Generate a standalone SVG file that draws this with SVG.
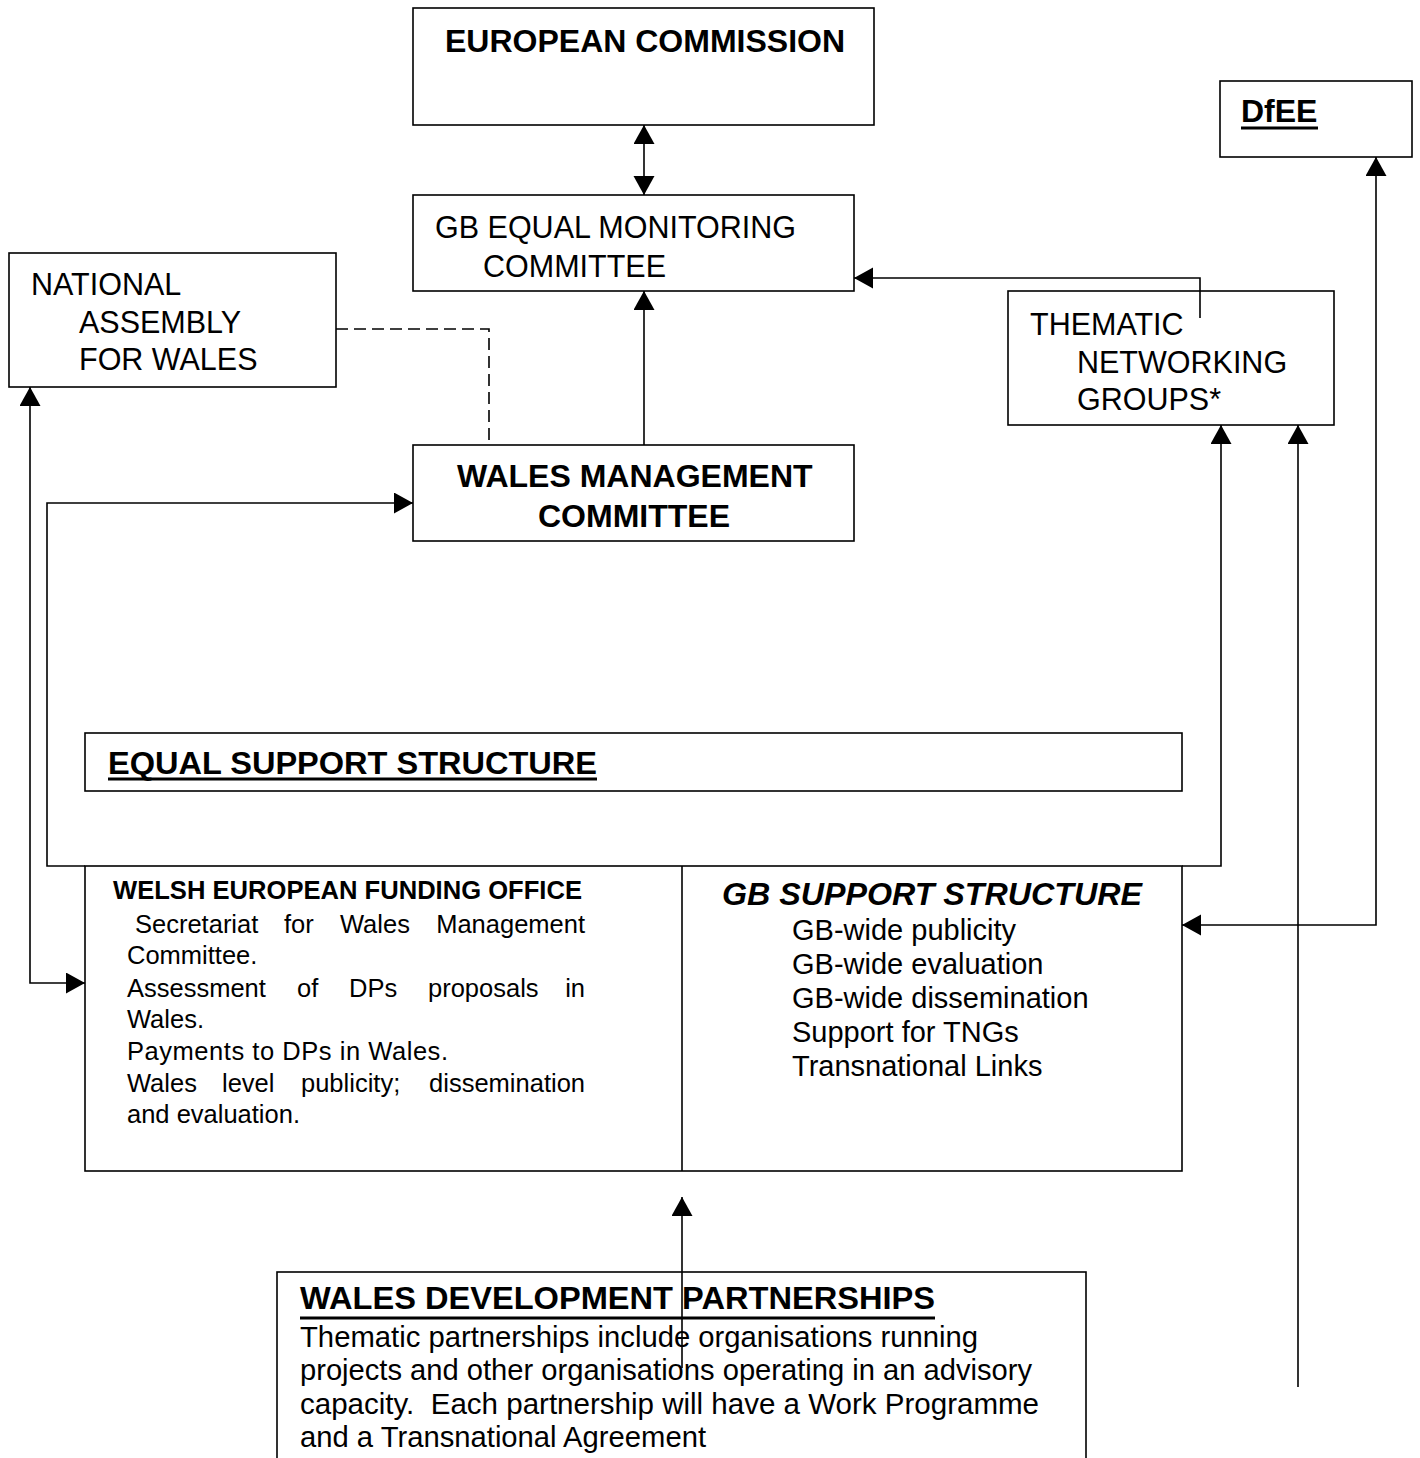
<svg xmlns="http://www.w3.org/2000/svg" width="1420" height="1458" viewBox="0 0 1420 1458">
<style>
.box{fill:none;stroke:#000;stroke-width:1.6}
.t{font-family:"Liberation Sans",Arial,sans-serif;fill:#000}
.b{font-weight:bold}
.h{font-size:30.5px}
.hb{font-size:32px;font-weight:bold}
.s{font-size:25.5px}
.m{font-size:29px}
.c{fill:none;stroke:#000;stroke-width:1.6}
.d{stroke-dasharray:12 6}
.ul{fill:#000}
</style>
<defs>
<marker id="ah" markerUnits="userSpaceOnUse" markerWidth="20" markerHeight="22" refX="19" refY="10.5" orient="auto-start-reverse" viewBox="0 0 20 22">
<path d="M0,0 L19,10.5 L0,21 z" fill="#000"/>
</marker>
</defs>
<rect width="1420" height="1458" fill="#fff"/>

<g id="european-commission">
<rect class="box" x="413" y="8" width="461" height="117"/>
<text class="t hb" x="445" y="52">EUROPEAN COMMISSION</text>
</g>

<g id="gb-equal-monitoring-committee">
<rect class="box" x="413" y="195" width="441" height="96"/>
<text class="t h" x="435" y="238">GB EQUAL MONITORING</text>
<text class="t h" x="483" y="277">COMMITTEE</text>
</g>

<g id="national-assembly">
<rect class="box" x="9" y="253" width="327" height="134"/>
<text class="t h" x="31" y="295">NATIONAL</text>
<text class="t h" x="79" y="333">ASSEMBLY</text>
<text class="t h" x="79" y="370">FOR WALES</text>
</g>

<g id="wales-management-committee">
<rect class="box" x="413" y="445" width="441" height="96"/>
<text class="t hb" x="457" y="487">WALES MANAGEMENT</text>
<text class="t hb" x="538" y="527">COMMITTEE</text>
</g>

<g id="thematic-networking-groups">
<rect class="box" x="1008" y="291" width="326" height="134"/>
<text class="t h" x="1030" y="335">THEMATIC</text>
<text class="t h" x="1077" y="373">NETWORKING</text>
<text class="t h" x="1077" y="410">GROUPS*</text>
</g>

<g id="dfee">
<rect class="box" x="1220" y="81" width="192" height="76"/>
<text class="t hb" x="1241" y="122">DfEE</text>
<rect class="ul" x="1241" y="126.5" width="77" height="3"/>
</g>

<g id="equal-support-structure">
<rect class="box" x="85" y="733" width="1097" height="58"/>
<text class="t hb" x="108" y="774" textLength="489" lengthAdjust="spacingAndGlyphs">EQUAL SUPPORT STRUCTURE</text>
<rect class="ul" x="108" y="777.5" width="489" height="3"/>
</g>

<g id="support-structure-box">
<rect class="box" x="85" y="866" width="1097" height="305"/>
<line class="c" x1="682" y1="866" x2="682" y2="1171"/>
</g>

<g id="welsh-european-funding-office">
<text class="t s b" x="113" y="899" textLength="469" lengthAdjust="spacingAndGlyphs">WELSH EUROPEAN FUNDING OFFICE</text>
<text class="t s" y="933"><tspan x="135">Secretariat</tspan><tspan x="284">for</tspan><tspan x="340">Wales</tspan><tspan x="585" text-anchor="end">Management</tspan></text>
<text class="t s" x="127" y="964">Committee.</text>
<text class="t s" y="997"><tspan x="127">Assessment</tspan><tspan x="297">of</tspan><tspan x="349">DPs</tspan><tspan x="428">proposals</tspan><tspan x="585" text-anchor="end">in</tspan></text>
<text class="t s" x="127" y="1028">Wales.</text>
<text class="t s" x="127" y="1060" textLength="321" lengthAdjust="spacing">Payments to DPs in Wales.</text>
<text class="t s" y="1092"><tspan x="127">Wales</tspan><tspan x="222">level</tspan><tspan x="301">publicity;</tspan><tspan x="585" text-anchor="end">dissemination</tspan></text>
<text class="t s" x="127" y="1123">and evaluation.</text>
</g>

<g id="gb-support-structure">
<text class="t hb" x="722" y="905" font-style="italic" textLength="420" lengthAdjust="spacingAndGlyphs">GB SUPPORT STRUCTURE</text>
<text class="t m" x="792" y="940">GB-wide publicity</text>
<text class="t m" x="792" y="974">GB-wide evaluation</text>
<text class="t m" x="792" y="1008">GB-wide dissemination</text>
<text class="t m" x="792" y="1042">Support for TNGs</text>
<text class="t m" x="792" y="1076">Transnational Links</text>
</g>

<g id="wales-development-partnerships">
<rect class="box" x="277" y="1272" width="809" height="200"/>
<text class="t hb" x="300" y="1309" textLength="635" lengthAdjust="spacingAndGlyphs">WALES DEVELOPMENT PARTNERSHIPS</text>
<rect class="ul" x="300" y="1316.5" width="635" height="3"/>
<text class="t m" x="300" y="1347" textLength="678" lengthAdjust="spacingAndGlyphs">Thematic partnerships include organisations running</text>
<text class="t m" x="300" y="1380" textLength="732" lengthAdjust="spacingAndGlyphs">projects and other organisations operating in an advisory</text>
<text class="t m" x="300" y="1414" xml:space="preserve" textLength="739" lengthAdjust="spacingAndGlyphs">capacity.  Each partnership will have a Work Programme</text>
<text class="t m" x="300" y="1447" textLength="406" lengthAdjust="spacingAndGlyphs">and a Transnational Agreement</text>
</g>

<g id="connectors">
<path class="c" d="M644,125 V195" marker-start="url(#ah)" marker-end="url(#ah)"/>
<path class="c" d="M644,445 V291" marker-end="url(#ah)"/>
<path class="c d" d="M336,329 H489 V445"/>
<path class="c" d="M1200,318 V278 H854" marker-end="url(#ah)"/>
<path class="c" d="M30,387 V983 H85" marker-start="url(#ah)" marker-end="url(#ah)"/>
<path class="c" d="M85,866 H47 V503 H413" marker-end="url(#ah)"/>
<path class="c" d="M1182,866 H1221 V425" marker-end="url(#ah)"/>
<path class="c" d="M1182,925 H1376 V157" marker-start="url(#ah)" marker-end="url(#ah)"/>
<path class="c" d="M1298,1387 V425" marker-end="url(#ah)"/>
<path class="c" d="M682,1368 V1197" marker-end="url(#ah)"/>
</g>
</svg>
